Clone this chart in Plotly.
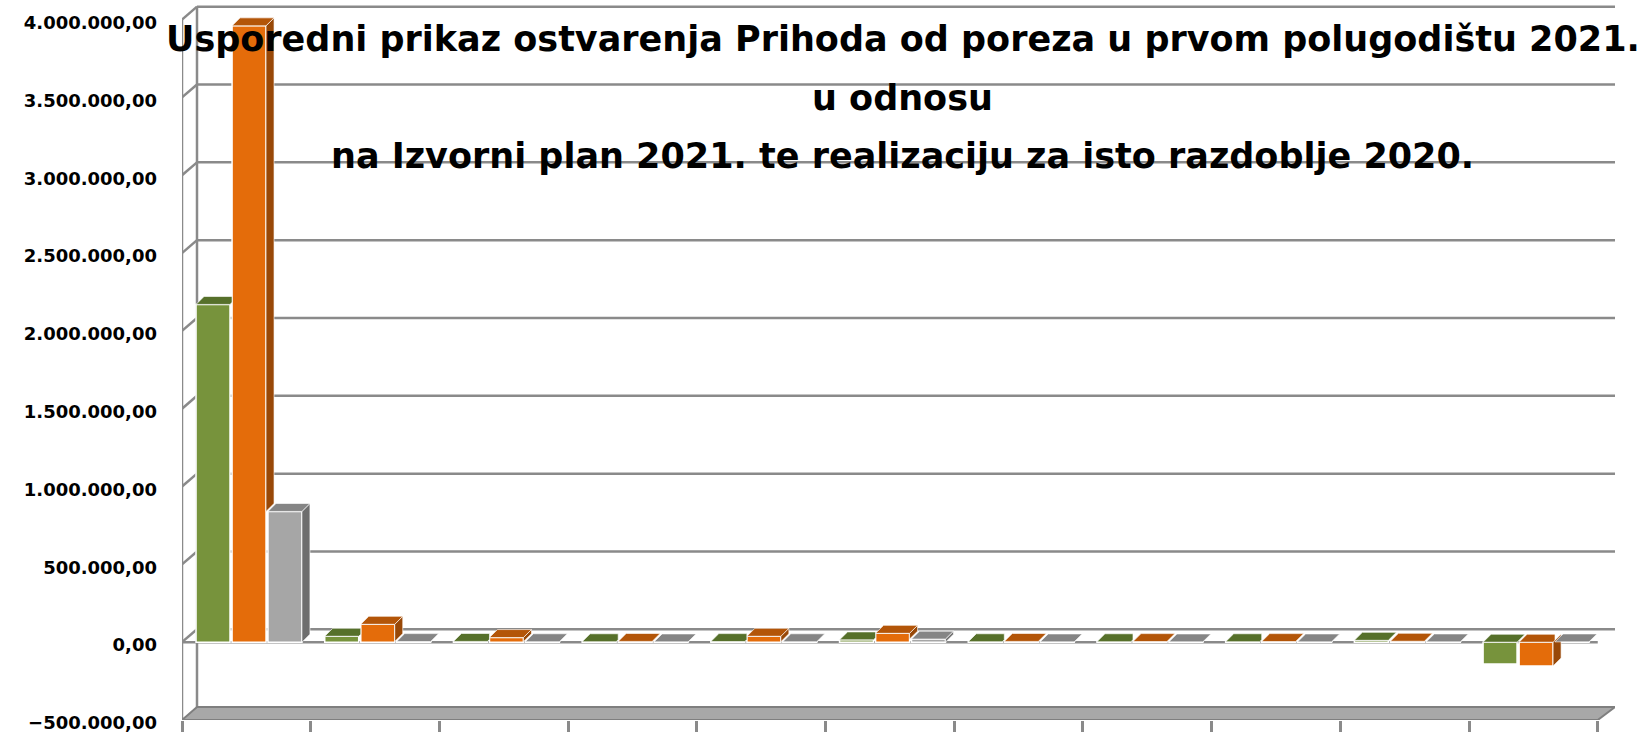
import plotly.graph_objects as go

# ---------------- data ----------------
categories = list(range(11))
series_names = ["Ostvarenje 2021.", "Izvorni plan 2021.", "Ostvarenje 2020."]
green_vals = [2170000, 38000, 5000, 3000, 4000, 15000, 3000, 3000, 3000, 12000, -140000]
orange_vals = [3960000, 115000, 30000, 5000, 38000, 57000, 5000, 4000, 4000, 6000, -153000]
gray_vals = [840000, 4000, 3000, 2000, 3000, 20000, 2000, 2000, 2000, 2000, 2000]
tick_vals = [-500000 + 500000 * i for i in range(10)]
title_lines = ["Usporedni prikaz ostvarenja Prihoda od poreza u prvom polugodištu 2021.",
               "u odnosu",
               "na Izvorni plan 2021. te realizaciju za isto razdoblje 2020."]

front_colors = ["#77933C", "#E46C0A", "#A6A6A6"]
top_colors = ["#56702A", "#B35508", "#858585"]
side_colors = ["#4F6228", "#984807", "#6E6E6E"]

# ---------------- geometry ----------------
W, H = 1645, 737
ML, MR, MT, MB = 182, 30, 4, 11
X_RANGE = [-0.5, 10.634]
Y_RANGE = [-500000, 4100000]
PX_X = (X_RANGE[1] - X_RANGE[0]) / (W - ML - MR)
PX_Y = (Y_RANGE[1] - Y_RANGE[0]) / (H - MT - MB)
DX, DY = 8 * PX_X, 8 * PX_Y        # bar depth
BX, BY = 15 * PX_X, 13 * PX_Y      # wall depth
BAR_W = 0.264
offsets = [-0.391, -0.111, 0.168]


def clip_x(poly, xc):
    out = []
    n = len(poly)
    for k in range(n):
        p, q = poly[k], poly[(k + 1) % n]
        pin, qin = p[0] <= xc, q[0] <= xc
        if pin:
            out.append(p)
        if pin != qin:
            t = (xc - p[0]) / (q[0] - p[0])
            out.append((xc, p[1] + t * (q[1] - p[1])))
    return out


all_vals = [green_vals, orange_vals, gray_vals]
fig = go.Figure()

for s, (name, vals) in enumerate(zip(series_names, all_vals)):
    nxt = all_vals[s + 1] if s + 1 < len(all_vals) else None
    tx, ty, sx, sy = [], [], [], []
    for i, v in enumerate(vals):
        x0 = i + offsets[s]
        x1 = x0 + BAR_W
        top = max(v, 0)
        poly = [(x0, top), (x1, top), (x1 + DX, top + DY), (x0 + DX, top + DY)]
        lo, hi = min(v, 0), max(v, 0)
        show_side = True
        if nxt is not None:
            vn = nxt[i]
            xn = i + offsets[s + 1]
            if vn > top:
                poly = clip_x(poly, xn)
            if v >= 0:
                if vn >= v:
                    show_side = False
                else:
                    lo = max(0, vn)
            else:
                if vn <= v:
                    show_side = False
                else:
                    hi = min(0, vn)
        for (px, py) in poly:
            tx.append(px); ty.append(py)
        tx.append(poly[0][0]); ty.append(poly[0][1])
        tx.append(None); ty.append(None)
        if show_side:
            side = [(x1, lo), (x1 + DX, lo + DY), (x1 + DX, hi + DY), (x1, hi), (x1, lo)]
            for (px, py) in side:
                sx.append(px); sy.append(py)
            sx.append(None); sy.append(None)
    fig.add_trace(go.Scatter(x=sx, y=sy, mode="lines", fill="toself", fillcolor=side_colors[s],
                             line=dict(color="rgba(255,255,255,0.8)", width=0.8),
                             hoverinfo="skip", showlegend=False))
    fig.add_trace(go.Scatter(x=tx, y=ty, mode="lines", fill="toself", fillcolor=top_colors[s],
                             line=dict(color="rgba(255,255,255,0.8)", width=0.8),
                             hoverinfo="skip", showlegend=False))
    fig.add_trace(go.Bar(x=categories, y=vals, name=name, offset=offsets[s], width=BAR_W,
                         marker=dict(color=front_colors[s], line=dict(color="white", width=1.5))))

# ---------------- walls / gridlines ----------------
GRID = "#8A8A8A"
shapes = []
for t in tick_vals:
    if t == Y_RANGE[0]:
        continue
    shapes.append(dict(type="line", xref="x", yref="y", x0=X_RANGE[0] + BX, x1=X_RANGE[1],
                       y0=t + BY, y1=t + BY, line=dict(color=GRID, width=2.5), layer="below"))
    shapes.append(dict(type="line", xref="x", yref="y", x0=X_RANGE[0], x1=X_RANGE[0] + BX,
                       y0=t, y1=t + BY, line=dict(color=GRID, width=2.5), layer="below"))
# back wall left edge
shapes.append(dict(type="line", xref="x", yref="y", x0=X_RANGE[0] + BX, x1=X_RANGE[0] + BX,
                   y0=tick_vals[0] + BY, y1=tick_vals[-1] + BY, line=dict(color=GRID, width=2.5), layer="below"))
# front vertical axis line
shapes.append(dict(type="line", xref="x", yref="y", x0=X_RANGE[0], x1=X_RANGE[0],
                   y0=tick_vals[0], y1=tick_vals[-1], line=dict(color=GRID, width=2.5), layer="below"))
# front zero edge of the floor
shapes.append(dict(type="line", xref="x", yref="y", x0=X_RANGE[0], x1=10.5,
                   y0=0, y1=0, line=dict(color=GRID, width=2.5), layer="below"))
# bottom floor slab
y_b = tick_vals[0]
shapes.append(dict(type="path", xref="x", yref="y",
                   path=f"M {X_RANGE[0]},{y_b} L 10.5,{y_b} L {X_RANGE[1]},{y_b + BY} "
                        f"L {X_RANGE[0] + BX},{y_b + BY} Z",
                   fillcolor="#A8A8A8", line=dict(color="#7F7F7F", width=2), layer="below"))

fig.update_layout(
    width=W, height=H,
    barmode="overlay",
    separators=",.",
    showlegend=False,
    plot_bgcolor="white", paper_bgcolor="white",
    margin=dict(l=ML, r=MR, t=MT, b=MB),
    font=dict(family="DejaVu Sans", color="black"),
    shapes=shapes,
    xaxis=dict(range=X_RANGE, tickvals=[i - 0.5 for i in range(12)], showticklabels=False,
               ticks="outside", ticklen=11, tickwidth=2.5, tickcolor=GRID,
               showline=False, showgrid=False, zeroline=False),
    yaxis=dict(range=Y_RANGE, tickvals=tick_vals, tickformat=",.2f",
               tickfont=dict(family="DejaVu Sans", size=18, color="black", weight="bold"),
               showgrid=False, showline=False, zeroline=False, ticks="", ticklabelstandoff=24,
               ticklabelshift=3),
)

title_y = [39, 99, 157]
title_x = [0.503, 0.503, 0.503]
for txt, yy, xx in zip(title_lines, title_y, title_x):
    fig.add_annotation(text="<b>" + txt + "</b>", xref="paper", yref="paper", x=xx,
                       y=1 - (yy - MT) / (H - MT - MB), yanchor="middle", xanchor="center",
                       showarrow=False, font=dict(family="DejaVu Sans", size=35, color="black"))

fig.write_html("out.html", config={"displayModeBar": False},
               post_script="document.body.style.margin='0';document.body.style.overflow='hidden';")
